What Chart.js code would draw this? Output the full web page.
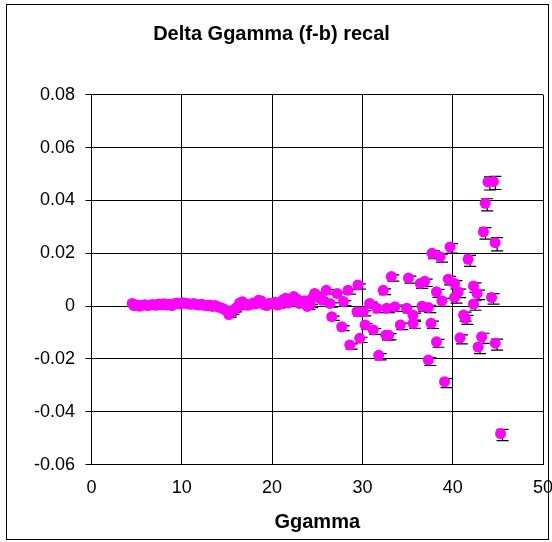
<!DOCTYPE html>
<html>
<head>
<meta charset="utf-8">
<style>
  html, body { margin: 0; padding: 0; background: #fff; }
  #wrap { width: 552px; height: 542px; }
</style>
<script src="https://cdn.jsdelivr.net/npm/chart.js@4/dist/chart.umd.min.js"></script>
</head>
<body>
<div id="wrap"><canvas id="c" width="552" height="542"></canvas></div>
<script>
// Ggamma values (x) of each measurement
const ggamma = [
  4.5, 4.7, 5.0, 5.3, 5.6, 5.9, 6.2, 6.5, 6.8, 7.1, 7.4, 7.7, 8.0, 8.3, 8.6, 8.9, 9.2, 9.5, 9.8,
  10.1, 10.4, 10.7, 11.0, 11.3, 11.6, 11.9, 12.2, 12.5, 12.8, 13.1, 13.4, 13.7, 14.0, 14.3, 14.6, 14.9,
  15.2, 15.5, 15.8, 16.1, 16.4, 16.7, 17.0, 17.3, 17.6, 17.9, 18.2, 18.5, 18.8, 19.1, 19.4, 19.7,
  20.0, 20.3, 20.6, 20.9, 21.2, 21.5, 21.8, 22.1, 22.4, 22.7, 23.0, 23.3, 23.6, 23.9, 24.2, 24.5, 24.7,
  25.0, 25.3, 25.6, 26.0, 26.4, 26.6, 27.2, 27.7, 27.9, 28.4, 28.6, 29.4, 29.5, 29.7,
  30.1, 30.3, 30.8, 31.2, 31.6, 31.8, 32.3, 32.7, 32.6, 32.9, 33.2, 33.6, 34.2, 34.9,
  35.1, 35.6, 35.6, 36.4, 36.6, 36.9, 37.3, 37.3, 37.6, 37.7, 38.2, 38.2, 38.6, 38.8, 39.1, 39.5, 39.7,
  40.2, 40.2, 40.6, 40.8, 41.2, 41.4, 41.7, 42.3, 42.3, 42.7, 42.8, 43.2, 43.4, 43.6, 43.9,
  44.3, 44.5, 44.7, 44.7, 45.3
];

// Delta Ggamma (f-b) after recalibration
const deltaG = [
  0.0010, 0.0002, 0.0004, 0.0000, 0.0003, 0.0005, 0.0002, 0.0004, 0.0006, 0.0003, 0.0008, 0.0005, 0.0009, 0.0004, 0.0007, 0.0002, 0.0010, 0.0012, 0.0008,
  0.0013, 0.0011, 0.0009, 0.0007, 0.0010, 0.0006, 0.0004, 0.0007, 0.0003, 0.0001, 0.0004, -0.0001, 0.0002, -0.0003, -0.0006, -0.0010, -0.0016,
  -0.0032, -0.0022, -0.0012, -0.0004, 0.0012, 0.0017, 0.0008, 0.0003, 0.0006, 0.0012, 0.0009, 0.0022, 0.0019, 0.0006, 0.0002, 0.0011,
  0.0010, 0.0015, 0.0004, 0.0008, 0.0024, 0.0030, 0.0012, 0.0020, 0.0036, 0.0028, 0.0010, 0.0014, 0.0020, -0.0001, 0.0006, 0.0032, 0.0048,
  0.0040, 0.0030, 0.0022, 0.0060, 0.0010, -0.0040, 0.0048, -0.0078, 0.0017, 0.0060, -0.0147, -0.0021, 0.0080, -0.0122,
  -0.0021, -0.0071, 0.0010, -0.0090, -0.0008, -0.0186, 0.0060, -0.0008, -0.0110, -0.0110, 0.0112, -0.0002, -0.0071, -0.0008,
  0.0106, -0.0034, -0.0065, 0.0086, 0.0000, 0.0094, -0.0005, -0.0204, -0.0065, 0.0200, 0.0054, -0.0135, 0.0187, 0.0020, -0.0286, 0.0102, 0.0224,
  0.0086, 0.0033, 0.0054, -0.0120, -0.0034, -0.0046, 0.0177, 0.0076, 0.0008, 0.0048, -0.0155, -0.0116, 0.0281, 0.0389, 0.0470,
  0.0033, 0.0472, 0.0240, -0.0140, -0.0482
];

// Half-width of the error bar on each point
const deltaErr = [
  0.0003, 0.0003, 0.0003, 0.0003, 0.0003, 0.0003, 0.0003, 0.0003, 0.0003, 0.0003, 0.0003, 0.0003, 0.0003, 0.0003, 0.0003, 0.0003, 0.0003, 0.0003, 0.0003,
  0.0003, 0.0003, 0.0003, 0.0003, 0.0003, 0.0003, 0.0003, 0.0003, 0.0003, 0.0003, 0.0003, 0.0003, 0.0003, 0.0003, 0.0003, 0.0003, 0.0003,
  0.0004, 0.0004, 0.0004, 0.0004, 0.0004, 0.0004, 0.0004, 0.0004, 0.0004, 0.0004, 0.0004, 0.0004, 0.0004, 0.0004, 0.0004, 0.0004,
  0.0005, 0.0005, 0.0005, 0.0005, 0.0005, 0.0005, 0.0005, 0.0005, 0.0005, 0.0005, 0.0006, 0.0006, 0.0006, 0.0006, 0.0006, 0.0007, 0.0007,
  0.0007, 0.0007, 0.0007, 0.0008, 0.0008, 0.0008, 0.0008, 0.0009, 0.0009, 0.0009, 0.0010, 0.0010, 0.0010, 0.0010,
  0.0010, 0.0010, 0.0011, 0.0011, 0.0011, 0.0012, 0.0011, 0.0011, 0.0012, 0.0012, 0.0012, 0.0012, 0.0012, 0.0012,
  0.0013, 0.0013, 0.0013, 0.0013, 0.0013, 0.0014, 0.0014, 0.0015, 0.0014, 0.0015, 0.0015, 0.0015, 0.0015, 0.0015, 0.0017, 0.0016, 0.0018,
  0.0016, 0.0016, 0.0016, 0.0017, 0.0017, 0.0017, 0.0021, 0.0018, 0.0018, 0.0018, 0.0019, 0.0019, 0.0022, 0.0023, 0.0025,
  0.0020, 0.0025, 0.0025, 0.0021, 0.0021
];

const xTicks = [0, 10, 20, 30, 40, 50];
const yTicks = [-0.06, -0.04, -0.02, 0, 0.02, 0.04, 0.06, 0.08];

const FONT = '"Liberation Sans", Arial, Helvetica, sans-serif';

// White page with the outer frame around the whole chart
const frame = {
  id: 'frame',
  beforeDraw(chart) {
    const ctx = chart.ctx;
    ctx.save();
    ctx.fillStyle = '#fff';
    ctx.fillRect(0, 0, chart.width, chart.height);
    ctx.restore();
  },
  afterDraw(chart) {
    const ctx = chart.ctx;
    ctx.save();
    ctx.strokeStyle = '#000';
    ctx.lineWidth = 1;
    ctx.strokeRect(6.5, 4.5, 542, 535);
    ctx.restore();
  }
};

// Vertical error bars with caps, drawn under the markers
const errorBars = {
  id: 'errorBars',
  beforeDatasetsDraw(chart) {
    const { ctx, scales: { x, y }, chartArea } = chart;
    const dx = 2, dy = 1.5, cap = 6;
    ctx.save();
    ctx.beginPath();
    ctx.rect(chartArea.left, chartArea.top - 10, chartArea.right - chartArea.left, chartArea.bottom - chartArea.top + 20);
    ctx.clip();
    ctx.strokeStyle = '#000';
    ctx.lineWidth = 1.2;
    ggamma.forEach((gx, i) => {
      const px = x.getPixelForValue(gx) + dx;
      const yHi = y.getPixelForValue(deltaG[i] + deltaErr[i]) + dy;
      const yLo = y.getPixelForValue(deltaG[i] - deltaErr[i]) + dy;
      ctx.beginPath();
      ctx.moveTo(px, yHi); ctx.lineTo(px, yLo);
      ctx.moveTo(px - cap, yHi); ctx.lineTo(px + cap, yHi);
      ctx.moveTo(px - cap, yLo); ctx.lineTo(px + cap, yLo);
      ctx.stroke();
    });
    ctx.restore();
  }
};

new Chart(document.getElementById('c'), {
  type: 'scatter',
  data: {
    datasets: [{
      label: 'Delta Ggamma',
      data: ggamma.map((gx, i) => ({ x: gx, y: deltaG[i] })),
      pointRadius: 5.5,
      pointHoverRadius: 5.5,
      pointBackgroundColor: '#FF00FF',
      pointBorderColor: '#FF00FF',
      pointBorderWidth: 0,
      showLine: false
    }]
  },
  options: {
    responsive: false,
    animation: false,
    devicePixelRatio: 1,
    layout: { padding: { left: 0, right: 9, top: 0, bottom: 0 } },
    plugins: {
      legend: { display: false },
      tooltip: { enabled: false },
      title: {
        display: true,
        text: 'Delta Ggamma (f-b) recal',
        color: '#000',
        font: { family: FONT, size: 20, weight: 'bold' },
        padding: { top: 22, bottom: 48.7 }
      }
    },
    scales: {
      x: {
        type: 'linear',
        min: 0,
        max: 50,
        afterBuildTicks(scale) { scale.ticks = xTicks.map(v => ({ value: v })); },
        afterFit(scale) {
          scale.height = 77.3;
          scale.paddingLeft = 0;
          scale.paddingRight = 0;
        },
        ticks: {
          color: '#000',
          font: { family: FONT, size: 18 },
          padding: 13,
          maxRotation: 0,
          callback: v => String(v)
        },
        grid: { color: '#000', lineWidth: 1, drawTicks: false },
        border: { color: '#000', width: 1 },
        title: {
          display: true,
          text: 'Ggamma',
          color: '#000',
          font: { family: FONT, size: 20, weight: 'bold' },
          padding: { top: 4, bottom: 8 }
        }
      },
      y: {
        type: 'linear',
        min: -0.06,
        max: 0.08,
        afterBuildTicks(scale) { scale.ticks = yTicks.map(v => ({ value: v })); },
        afterFit(scale) {
          scale.width = 91.5;
          scale.paddingTop = 0;
          scale.paddingBottom = 0;
        },
        ticks: {
          color: '#000',
          font: { family: FONT, size: 18 },
          padding: 10.5,
          callback: v => (Math.abs(v) < 1e-9 ? '0' : v.toFixed(2))
        },
        grid: { color: '#000', lineWidth: 1, drawTicks: true, tickLength: 6 },
        border: { color: '#000', width: 1 }
      }
    }
  },
  plugins: [frame, errorBars]
});
</script>
</body>
</html>
